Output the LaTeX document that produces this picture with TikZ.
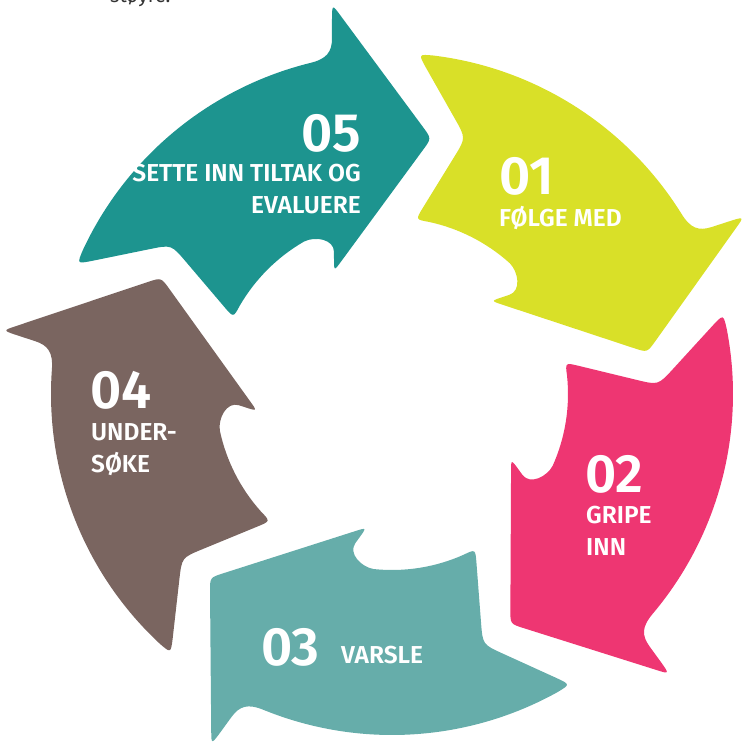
\documentclass[tikz,border=0pt]{standalone}
\usepackage{fontspec}
\setmainfont{Fira Sans}[BoldFont={Fira Sans SemiBold}]
\definecolor{cfive}{HTML}{1D948F}
\definecolor{cone}{HTML}{D9E028}
\definecolor{ctwo}{HTML}{EE3672}
\definecolor{cthree}{HTML}{66ADAA}
\definecolor{cfour}{HTML}{7A6560}
\begin{document}
\begin{tikzpicture}[x=1pt,y=1pt,
  numtxt/.style={font=\fontsize{54}{54}\selectfont\bfseries, text=white, inner sep=0pt},
  labtxt/.style={font=\fontsize{24.5}{24.5}\selectfont\bfseries, text=white, inner sep=0pt}]
\useasboundingbox (-392,-348) rectangle (350,394);
\clip (-392,-348) rectangle (350,394);
\foreach \ang/\col in {0/cfive, -72/cone, -144/ctwo, -216/cthree, -288/cfour}{
  \begin{scope}[rotate=\ang]
  \fill[\col] (-300,133.1) .. controls (-315,130.2) .. (-309.05,144.1)
    arc[start angle=155, end angle=104, radius=341]
    .. controls (-65,335) and (-60,342) .. (-60,356)
    -- (-60,372) .. controls (-60,390) .. (-51.7,378.7)
    -- (31.1,266.8) .. controls (39.4,255.5) .. (31.1,244.2)
    -- (-50.9,132.5) .. controls (-58,122.8) .. (-58,136)
    -- (-58,142) .. controls (-58,155) and (-77,158) .. (-88,152.42)
    arc[start angle=120, end angle=150, radius=176]
    .. controls (-158.6,76.4) .. (-167.7,87.1)
    -- (-206.3,132.5) .. controls (-220.6,149.3) .. (-242.2,144.9)
    -- cycle;
  \end{scope}
}
\node[font=\fontsize{20}{20}\selectfont, text=black!80, anchor=base west, inner sep=0pt] (top) at (-282,391) {støyre.};
% 05
\node[numtxt, anchor=base east] (n5) at (-31,242) {05};
\node[labtxt, anchor=base east] (l5a) at (-31,212) {SETTE INN TILTAK OG};
\node[labtxt, anchor=base east] (l5b) at (-31,180) {EVALUERE};
% 01
\node[numtxt, anchor=base west] (n1) at (107,199) {01};
\node[labtxt, anchor=base west] (l1) at (107,167) {FØLGE MED};
% 02
\node[numtxt, anchor=base west] (n2) at (193,-98) {02};
\node[labtxt, anchor=base west] (l2a) at (194,-129) {GRIPE};
\node[labtxt, anchor=base west] (l2b) at (194,-161) {INN};
% 03
\node[numtxt, anchor=base west] (n3) at (-131,-271) {03};
\node[labtxt, anchor=base west] (l3) at (-51,-269) {VARSLE};
% 04
\node[numtxt, anchor=base west] (n4) at (-302,-14) {04};
\node[labtxt, anchor=base west] (l4a) at (-301,-46) {UNDER-};
\node[labtxt, anchor=base west] (l4b) at (-301,-78) {SØKE};
\end{tikzpicture}
\end{document}
